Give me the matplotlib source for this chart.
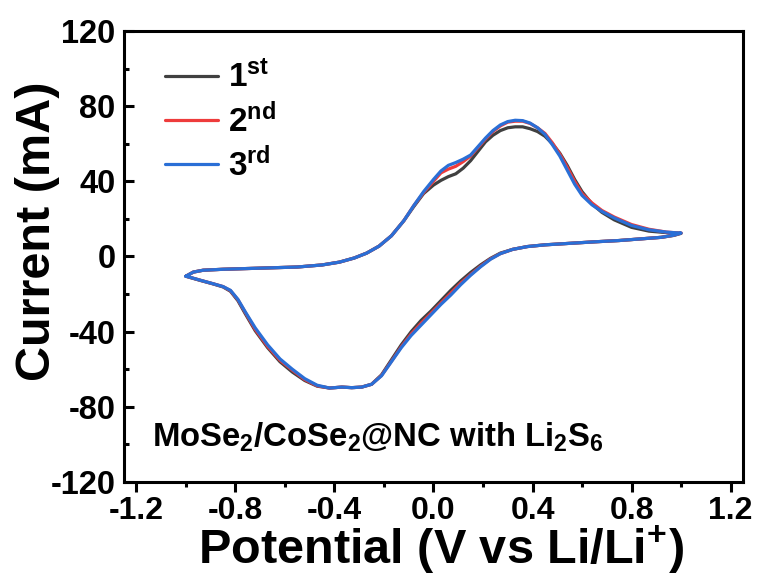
import matplotlib
matplotlib.use("Agg")
import matplotlib.pyplot as plt
from matplotlib.ticker import MultipleLocator

plt.rcParams["font.family"] = ["Liberation Sans", "DejaVu Sans"]
plt.rcParams["font.weight"] = "bold"
plt.rcParams["mathtext.fontset"] = "custom"
plt.rcParams["mathtext.rm"] = "Liberation Sans:bold"
plt.rcParams["mathtext.bf"] = "Liberation Sans:bold"
plt.rcParams["mathtext.it"] = "Liberation Sans:bold"
plt.rcParams["mathtext.default"] = "rm"

# Anodic sweep (-1.0 V -> 1.0 V)
potential_up = [-1.00, -0.97, -0.93, -0.85, -0.75, -0.65, -0.55, -0.45, -0.38, -0.32,
                -0.27, -0.22, -0.17, -0.12, -0.08, -0.04, 0.00, 0.03, 0.06, 0.09,
                0.12, 0.15, 0.18, 0.21, 0.24, 0.27, 0.30, 0.33, 0.36, 0.39,
                0.42, 0.45, 0.48, 0.51, 0.54, 0.57, 0.60, 0.64, 0.68, 0.73,
                0.80, 0.87, 0.94, 0.98, 1.00]
# Cathodic sweep (1.0 V -> -1.0 V)
potential_down = [1.00, 0.97, 0.92, 0.85, 0.75, 0.65, 0.55, 0.45, 0.38, 0.32,
                  0.27, 0.23, 0.19, 0.15, 0.11, 0.07, 0.03, -0.01, -0.05, -0.09,
                  -0.13, -0.17, -0.21, -0.25, -0.29, -0.33, -0.37, -0.42, -0.47, -0.52,
                  -0.57, -0.62, -0.67, -0.72, -0.76, -0.79, -0.82, -0.85, -0.89, -0.94,
                  -0.98, -1.00]

current_up_1 = [-10.5, -8.3, -7.3, -6.8, -6.4, -6.0, -5.6, -4.5, -3.0, -0.8,
                1.8, 5.5, 11.0, 19.0, 26.5, 33.5, 38.0, 40.5, 42.5, 44.0,
                47.0, 51.0, 56.0, 61.0, 64.5, 67.0, 68.5, 69.0, 69.0, 68.0,
                66.5, 64.0, 60.0, 55.0, 48.5, 41.0, 34.5, 28.0, 23.5, 19.5,
                15.5, 13.5, 12.7, 12.4, 12.3]
current_down_1 = [12.3, 11.2, 10.2, 9.5, 8.5, 7.8, 7.0, 6.2, 5.3, 3.8,
                  1.8, -1.0, -4.5, -8.5, -13.0, -18.0, -23.5, -29.0, -34.0, -40.0,
                  -47.0, -55.0, -63.0, -68.0, -69.5, -69.8, -69.5, -70.0, -69.0, -66.0,
                  -61.5, -56.0, -48.5, -39.5, -30.5, -23.5, -18.5, -16.2, -14.6, -12.8,
                  -11.3, -10.5]

current_up_2 = [-10.5, -8.3, -7.3, -6.8, -6.4, -6.0, -5.6, -4.5, -3.0, -0.8,
                1.8, 5.5, 11.0, 19.0, 27.0, 34.0, 40.0, 44.5, 46.5, 48.0,
                50.5, 53.5, 58.0, 62.5, 66.5, 69.5, 71.5, 72.0, 72.0, 70.8,
                68.5, 65.5, 60.5, 54.5, 47.5, 40.0, 33.5, 28.5, 24.5, 21.0,
                17.0, 14.5, 13.0, 12.6, 12.5]
current_down_2 = [12.5, 11.3, 10.2, 9.5, 8.5, 7.8, 7.0, 6.2, 5.3, 3.8,
                  1.5, -1.3, -5.2, -9.6, -14.2, -19.5, -24.8, -30.2, -35.5, -41.2,
                  -48.0, -55.8, -63.3, -68.0, -69.5, -69.8, -69.5, -70.0, -68.8, -65.5,
                  -60.5, -55.2, -47.8, -38.8, -29.8, -23.0, -18.2, -16.0, -14.5, -12.7,
                  -11.2, -10.5]

current_up_3 = [-10.5, -8.3, -7.3, -6.8, -6.4, -6.0, -5.6, -4.5, -3.0, -0.8,
                1.8, 5.5, 11.0, 19.0, 27.0, 34.5, 41.0, 45.5, 48.5, 50.0,
                51.8, 54.0, 58.5, 63.0, 67.0, 70.0, 71.8, 72.5, 72.3, 71.0,
                68.5, 65.0, 59.5, 53.5, 46.0, 38.5, 32.5, 27.5, 24.0, 20.5,
                16.5, 14.2, 13.0, 12.6, 12.5]
current_down_3 = [12.5, 11.3, 10.2, 9.5, 8.5, 7.8, 7.0, 6.2, 5.3, 3.8,
                  1.5, -1.5, -5.5, -10.0, -15.0, -20.5, -25.5, -31.0, -36.5, -42.0,
                  -48.5, -56.0, -63.5, -68.0, -69.5, -69.8, -69.5, -70.0, -68.5, -65.0,
                  -60.0, -54.5, -47.0, -38.0, -29.5, -22.8, -18.0, -16.0, -14.5, -12.7,
                  -11.2, -10.5]

cycle_labels = ["1$^{\\mathregular{st}}$", "2$^{\\mathregular{nd}}$", "3$^{\\mathregular{rd}}$"]
cycle_colors = ["#404040", "#ee3b3b", "#2a6fd6"]
cycle_currents = [(current_up_1, current_down_1),
                  (current_up_2, current_down_2),
                  (current_up_3, current_down_3)]

x_ticks = [-1.2, -0.8, -0.4, 0.0, 0.4, 0.8, 1.2]
y_ticks = [-120, -80, -40, 0, 40, 80, 120]

fig = plt.figure(figsize=(7.57, 5.76), dpi=100)
ax = fig.add_axes([0.1638, 0.1632, 0.8177, 0.783])

for label, color, (up, down) in zip(cycle_labels, cycle_colors, cycle_currents):
    ax.plot(potential_up + potential_down[1:], up + down[1:], color=color,
            lw=2.3, label=label, solid_joinstyle="round", solid_capstyle="round")

ax.set_xlim(-1.25, 1.25)
ax.set_ylim(-120, 120)
ax.set_xticks(x_ticks)
ax.set_yticks(y_ticks)
ax.set_xticklabels([f"{t:.1f}" for t in x_ticks])
ax.set_yticklabels([str(t) for t in y_ticks])
ax.xaxis.set_minor_locator(MultipleLocator(0.2))
ax.yaxis.set_minor_locator(MultipleLocator(20))

for s in ax.spines.values():
    s.set_linewidth(2.2)

ax.tick_params(axis="x", which="major", direction="out", length=7, width=2.2,
               labelsize=23, pad=3)
ax.tick_params(axis="x", which="minor", direction="out", length=3.5, width=2.2)
ax.tick_params(axis="y", which="major", direction="in", length=7, width=2.2,
               labelsize=23.5, pad=6)
ax.tick_params(axis="y", which="minor", direction="in", length=3.5, width=2.2)
for lab in ax.get_xticklabels() + ax.get_yticklabels():
    lab.set_fontweight("bold")

ax.set_xlabel("Potential (V vs Li/Li$^{\\mathregular{+}}$)", fontsize=35,
              fontweight="bold", labelpad=-2)
ax.set_ylabel("Current (mA)", fontsize=35, fontweight="bold", labelpad=-7)
ax.xaxis.label.set_x(0.512)
ax.yaxis.label.set_y(0.556)

ax.text(0.045, 0.10, "MoSe$_{2}$/CoSe$_{2}$@NC with Li$_{2}$S$_{6}$",
        transform=ax.transAxes, fontsize=23.7, fontweight="bold", va="center")

leg = ax.legend(loc="upper left", frameon=False, fontsize=24, handlelength=1.6,
                handletextpad=0.3, labelspacing=0.25, bbox_to_anchor=(0.018, 1.0))
for h in leg.get_lines():
    h.set_linewidth(2.3)

fig.savefig("out.png", dpi=100)
